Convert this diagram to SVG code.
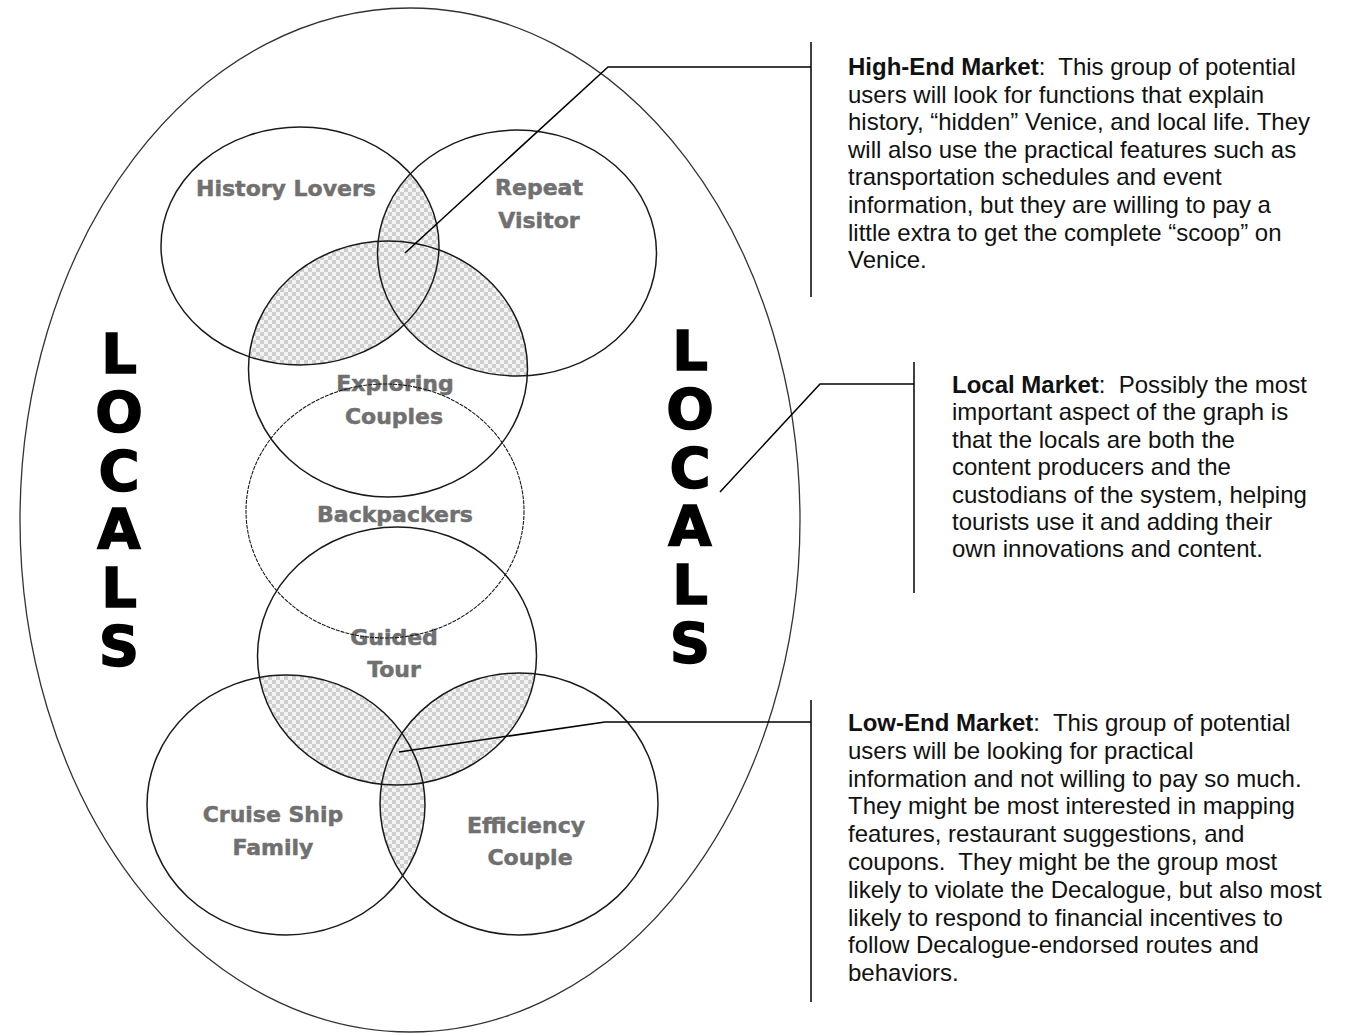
<svg xmlns="http://www.w3.org/2000/svg" width="1355" height="1036" viewBox="0 0 1355 1036">
<style>
.c{fill:none;stroke:#1a1a1a;stroke-width:1.5}
.bp{fill:none;stroke:#1a1a1a;stroke-width:1.1;stroke-dasharray:4 1}
.big{fill:none;stroke:#333;stroke-width:1.3}
.lbl{font-family:"DejaVu Sans",sans-serif;font-weight:bold;font-size:22px;fill:#707070;stroke:#707070;stroke-width:0.5;text-anchor:middle}
.loc{font-family:"DejaVu Sans",sans-serif;font-weight:bold;font-size:56px;fill:#000;stroke:#000;stroke-width:1.5;writing-mode:vertical-rl;text-orientation:upright;letter-spacing:-6.6px}
.tx{font-family:"Liberation Sans",Arial,sans-serif;font-size:24px;fill:#111}
.tx .b{font-weight:bold}
.ln{fill:none;stroke:#000;stroke-width:1.5}
.hatch{fill:url(#chk)}
</style>
<defs>
<pattern id="chk" width="8" height="8" patternUnits="userSpaceOnUse">
<rect width="8" height="8" fill="#f3f3f3"/>
<rect width="4" height="4" fill="#cfcfcf"/>
<rect x="4" y="4" width="4" height="4" fill="#cfcfcf"/>
</pattern>
<clipPath id="cHL"><ellipse cx="300" cy="246" rx="139" ry="119"/></clipPath>
<clipPath id="cRV"><ellipse cx="517" cy="253" rx="139.5" ry="123"/></clipPath>
<clipPath id="cEC"><ellipse cx="388" cy="369" rx="139.5" ry="128"/></clipPath>
<clipPath id="cGT"><ellipse cx="397" cy="656" rx="139.5" ry="129"/></clipPath>
<clipPath id="cCS"><ellipse cx="286" cy="805" rx="139" ry="130"/></clipPath>
<clipPath id="cEF"><ellipse cx="519" cy="804" rx="139" ry="131"/></clipPath>
</defs>
<rect width="1355" height="1036" fill="#fff"/>

<g id="locals-area">
<ellipse class="big" cx="410" cy="520" rx="390" ry="512"/>
<text class="loc" x="119" y="321">LOCALS</text>
<text class="loc" x="690" y="318">LOCALS</text>
</g>

<g id="hatching">
<g clip-path="url(#cHL)"><ellipse class="hatch" cx="517" cy="253" rx="139.5" ry="123"/></g>
<g clip-path="url(#cEC)"><ellipse class="hatch" cx="300" cy="246" rx="139" ry="119"/></g>
<g clip-path="url(#cEC)"><ellipse class="hatch" cx="517" cy="253" rx="139.5" ry="123"/></g>
<g clip-path="url(#cGT)"><ellipse class="hatch" cx="286" cy="805" rx="139" ry="130"/></g>
<g clip-path="url(#cGT)"><ellipse class="hatch" cx="519" cy="804" rx="139" ry="131"/></g>
<g clip-path="url(#cCS)"><ellipse class="hatch" cx="519" cy="804" rx="139" ry="131"/></g>
</g>

<g id="history-lovers"><text class="lbl" x="286" y="196">History Lovers</text><ellipse class="c" cx="300" cy="246" rx="139" ry="119"/></g>
<g id="repeat-visitor"><text class="lbl" x="539" y="195">Repeat</text><text class="lbl" x="539" y="228">Visitor</text><ellipse class="c" cx="517" cy="253" rx="139.5" ry="123"/></g>
<g id="exploring-couples"><text class="lbl" x="395" y="391">Exploring</text><text class="lbl" x="394" y="424">Couples</text><ellipse class="c" cx="388" cy="369" rx="139.5" ry="128"/></g>
<g id="guided-tour"><text class="lbl" x="394" y="645">Guided</text><text class="lbl" x="394" y="677">Tour</text><ellipse class="c" cx="397" cy="656" rx="139.5" ry="129"/></g>
<g id="backpackers"><text class="lbl" x="395" y="522">Backpackers</text><ellipse class="bp" cx="385" cy="511" rx="139" ry="127"/></g>
<g id="cruise-ship-family"><text class="lbl" x="273" y="822">Cruise Ship</text><text class="lbl" x="273" y="855">Family</text><ellipse class="c" cx="286" cy="805" rx="139" ry="130"/></g>
<g id="efficiency-couple"><text class="lbl" x="526" y="833">Efficiency</text><text class="lbl" x="530" y="865">Couple</text><ellipse class="c" cx="519" cy="804" rx="139" ry="131"/></g>

<g id="connectors">
<polyline class="ln" points="405,253 608,67 811,67"/>
<line class="ln" x1="811" y1="42" x2="811" y2="297"/>
<polyline class="ln" points="720,492 820,384 914,384"/>
<line class="ln" x1="914" y1="362" x2="914" y2="593"/>
<polyline class="ln" points="399,752 605,722 811,722"/>
<line class="ln" x1="811" y1="700" x2="811" y2="1002"/>
</g>

<g id="high-end-note" class="tx">
<text x="848" y="75" xml:space="preserve"><tspan class="b">High-End Market</tspan>:  This group of potential</text>
<text x="848" y="102.6">users will look for functions that explain</text>
<text x="848" y="130.2">history, “hidden” Venice, and local life. They</text>
<text x="848" y="157.8">will also use the practical features such as</text>
<text x="848" y="185.4">transportation schedules and event</text>
<text x="848" y="213">information, but they are willing to pay a</text>
<text x="848" y="240.6">little extra to get the complete “scoop” on</text>
<text x="848" y="268.2">Venice.</text>
</g>
<g id="local-note" class="tx">
<text x="952" y="393" xml:space="preserve"><tspan class="b">Local Market</tspan>:  Possibly the most</text>
<text x="952" y="420.4">important aspect of the graph is</text>
<text x="952" y="447.8">that the locals are both the</text>
<text x="952" y="475.2">content producers and the</text>
<text x="952" y="502.6">custodians of the system, helping</text>
<text x="952" y="530">tourists use it and adding their</text>
<text x="952" y="557.4">own innovations and content.</text>
</g>
<g id="low-end-note" class="tx">
<text x="848" y="731" xml:space="preserve"><tspan class="b">Low-End Market</tspan>:  This group of potential</text>
<text x="848" y="758.8">users will be looking for practical</text>
<text x="848" y="786.6">information and not willing to pay so much.</text>
<text x="848" y="814.4">They might be most interested in mapping</text>
<text x="848" y="842.2">features, restaurant suggestions, and</text>
<text x="848" y="870" xml:space="preserve">coupons.  They might be the group most</text>
<text x="848" y="897.8">likely to violate the Decalogue, but also most</text>
<text x="848" y="925.6">likely to respond to financial incentives to</text>
<text x="848" y="953.4">follow Decalogue-endorsed routes and</text>
<text x="848" y="981.2">behaviors.</text>
</g>
</svg>
